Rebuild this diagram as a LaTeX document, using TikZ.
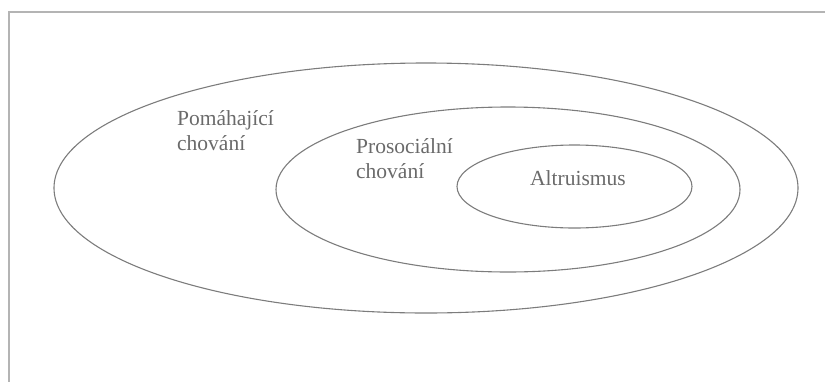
\documentclass[tikz,border=0pt]{standalone}
\usepackage{fontspec}
\setmainfont{Liberation Serif}
\usetikzlibrary{shapes.geometric}
\definecolor{linegray}{HTML}{7C7C7C}
\definecolor{textgray}{HTML}{6A6A6A}
\definecolor{framegray}{HTML}{B4B4B4}
\begin{document}
\begin{tikzpicture}[x=1pt,y=-1pt,
  setring/.style={draw=linegray, line width=1.1pt, ellipse, inner sep=0pt, minimum width=#1},
  lbl/.style={text=textgray, font=\fontsize{21.5}{25}\selectfont, inner sep=0pt, align=left}]
\useasboundingbox (0,0) rectangle (825,381);
\coordinate (fbl) at (9,384);
\coordinate (ftl) at (9,12);
\coordinate (ftr) at (828,12);
\draw[framegray, line width=2pt] (fbl) -- (ftl) -- (ftr);
\node[setring=744pt, minimum height=250pt] (outer) at (426,188) {};
\node[setring=464pt, minimum height=165pt] (middle) at (508,189.5) {};
\node[setring=235pt, minimum height=83pt] (inner) at (574.5,186.5) {};
\node[lbl, anchor=north west] (helping) at (177,110) {Pomáhající\\chování};
\node[lbl, anchor=north west] (prosocial) at (356,138) {Prosociální\\chování};
\node[lbl, anchor=base] (altruism) at (578,185) {Altruismus};
\end{tikzpicture}
\end{document}
